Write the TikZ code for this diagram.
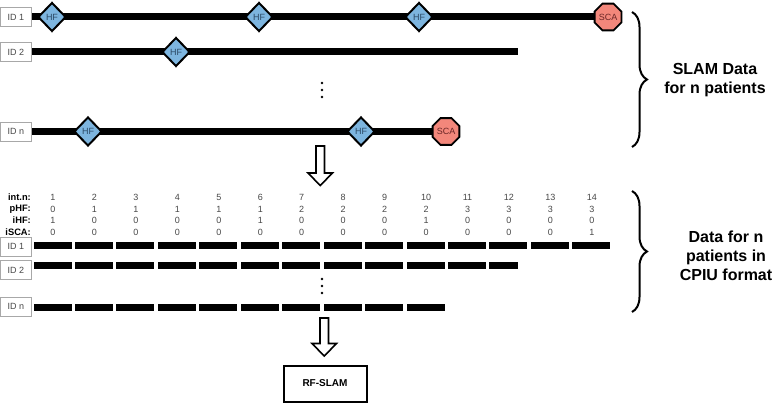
\documentclass[tikz,border=0pt]{standalone}
\usepackage{fontspec}
\setmainfont{Liberation Sans}
\usetikzlibrary{shapes.geometric,decorations.pathreplacing}
\definecolor{hfblue}{HTML}{7DB5DF}
\definecolor{scared}{HTML}{F3877B}
\definecolor{hftext}{HTML}{2C4A66}
\definecolor{scatext}{HTML}{6A2626}
\definecolor{idgray}{HTML}{A8A8A8}
\definecolor{numgray}{HTML}{474747}
\tikzset{
  idbox/.style={draw=idgray, line width=0.8pt, fill=white, minimum width=31pt, minimum height=19pt, inner sep=0pt, font=\fontsize{9}{10}\selectfont, text=numgray},
  hfnode/.style={diamond, draw=black, line width=2pt, fill=hfblue, minimum width=28pt, minimum height=29pt, inner sep=0pt, font=\fontsize{9}{10}\selectfont, text=hftext},
  scanode/.style={regular polygon, regular polygon sides=8, draw=black, line width=1.8pt, fill=scared, minimum size=29pt, inner sep=0pt, font=\fontsize{9}{10}\selectfont, text=scatext},
  tline/.style={line width=7pt, black},
  seg/.style={fill=black},
  hdr/.style={anchor=east, font=\bfseries\fontsize{9.3}{10}\selectfont, inner sep=0pt},
  num/.style={font=\fontsize{9}{10}\selectfont, text=numgray, inner sep=0pt},
  bigtext/.style={align=center, font=\bfseries\fontsize{16}{19}\selectfont},
  brc/.style={decorate, decoration={brace, amplitude=15pt}, line width=2pt},
  blockarrow/.style={draw=black, line width=1.6pt, fill=white, line join=miter},
  dot/.style={circle, fill=black, inner sep=0pt, minimum size=2.8pt}
}
\begin{document}
\begin{tikzpicture}[x=1pt,y=-1pt]
\useasboundingbox (0,0) rectangle (777,404);

% ---------- top section: SLAM data ----------
\coordinate (end2) at (518,52);
\draw[tline] (32,17) -- (608,17);
\draw[tline] (32,52) -- (end2);
\draw[tline] (32,131.5) -- (446,131.5);
\node[idbox] (id1) at (16,17) {ID 1};
\node[idbox] (id2) at (16,52) {ID 2};
\node[idbox] (idn) at (16,131.5) {ID n};
\node[hfnode] (hf11) at (52,17) {HF};
\node[hfnode] (hf12) at (259,17) {HF};
\node[hfnode] (hf13) at (419,17) {HF};
\node[scanode] (sca1) at (608,17) {SCA};
\node[hfnode] (hf21) at (176,52) {HF};
\node[hfnode] (hfn1) at (88,131.5) {HF};
\node[hfnode] (hfn2) at (361,131.5) {HF};
\node[scanode] (scan) at (446,131.5) {SCA};
\node[dot] (d1) at (322,83) {};
\node[dot] (d2) at (322,90) {};
\node[dot] (d3) at (322,97) {};

\draw[brc] (632,12) -- (632,147);
\node[bigtext] (t1) at (715,80) {SLAM Data\\for n patients};

% arrow 1
\draw[blockarrow] (316,146) -- (324.5,146) -- (324.5,173) -- (332.5,173) -- (320.25,185.5) -- (308,173) -- (316,173) -- cycle;

% ---------- CPIU section ----------
\node[hdr] (h1) at (31,197) {int.n:};
\node[hdr] (h2) at (31,209) {pHF:};
\node[hdr] (h3) at (31,220.5) {iHF:};
\node[hdr] (h4) at (31,232) {iSCA:};
\foreach \k/\p/\i/\s in {1/0/1/0,2/1/0/0,3/1/0/0,4/1/0/0,5/1/0/0,6/1/1/0,7/2/0/0,8/2/0/0,9/2/0/0,10/2/1/0,11/3/0/0,12/3/0/0,13/3/0/0,14/3/0/1}{
  \pgfmathsetmacro{\cx}{53+(\k-1)*41.45}
  \node[num] (n\k) at (\cx,197) {\k};
  \node[num] (p\k) at (\cx,209) {\p};
  \node[num] (i\k) at (\cx,220.5) {\i};
  \node[num] (s\k) at (\cx,232) {\s};
}
% bars
\foreach \k in {1,...,14}{
  \pgfmathsetmacro{\bx}{33.5+(\k-1)*41.45}
  \fill[seg] (\bx,242) rectangle ++(38,7);
}
\foreach \k in {1,...,11}{
  \pgfmathsetmacro{\bx}{33.5+(\k-1)*41.45}
  \fill[seg] (\bx,262) rectangle ++(38,7);
}
\fill[seg] (489,262) rectangle (518,269);
\foreach \k in {1,...,10}{
  \pgfmathsetmacro{\bx}{33.5+(\k-1)*41.45}
  \fill[seg] (\bx,303.5) rectangle ++(38,7);
}
\node[idbox] (cid1) at (16,246.5) {ID 1};
\node[idbox] (cid2) at (16,270) {ID 2};
\node[idbox] (cidn) at (16,306.5) {ID n};
\node[dot] (e1) at (322,279) {};
\node[dot] (e2) at (322,286) {};
\node[dot] (e3) at (322,293) {};

\draw[brc] (632,191) -- (632,312);
\node[bigtext] (t2) at (726,256) {Data for n\\patients in\\CPIU format};

% arrow 2
\draw[blockarrow] (320,318) -- (328.5,318) -- (328.5,343.5) -- (336.5,343.5) -- (324.25,356) -- (312,343.5) -- (320,343.5) -- cycle;

\node[draw=black, line width=2pt, minimum width=83pt, minimum height=36pt, inner sep=0pt, font=\bfseries\fontsize{10}{11}\selectfont] (rf) at (325,383.5) {RF-SLAM};
\end{tikzpicture}
\end{document}
